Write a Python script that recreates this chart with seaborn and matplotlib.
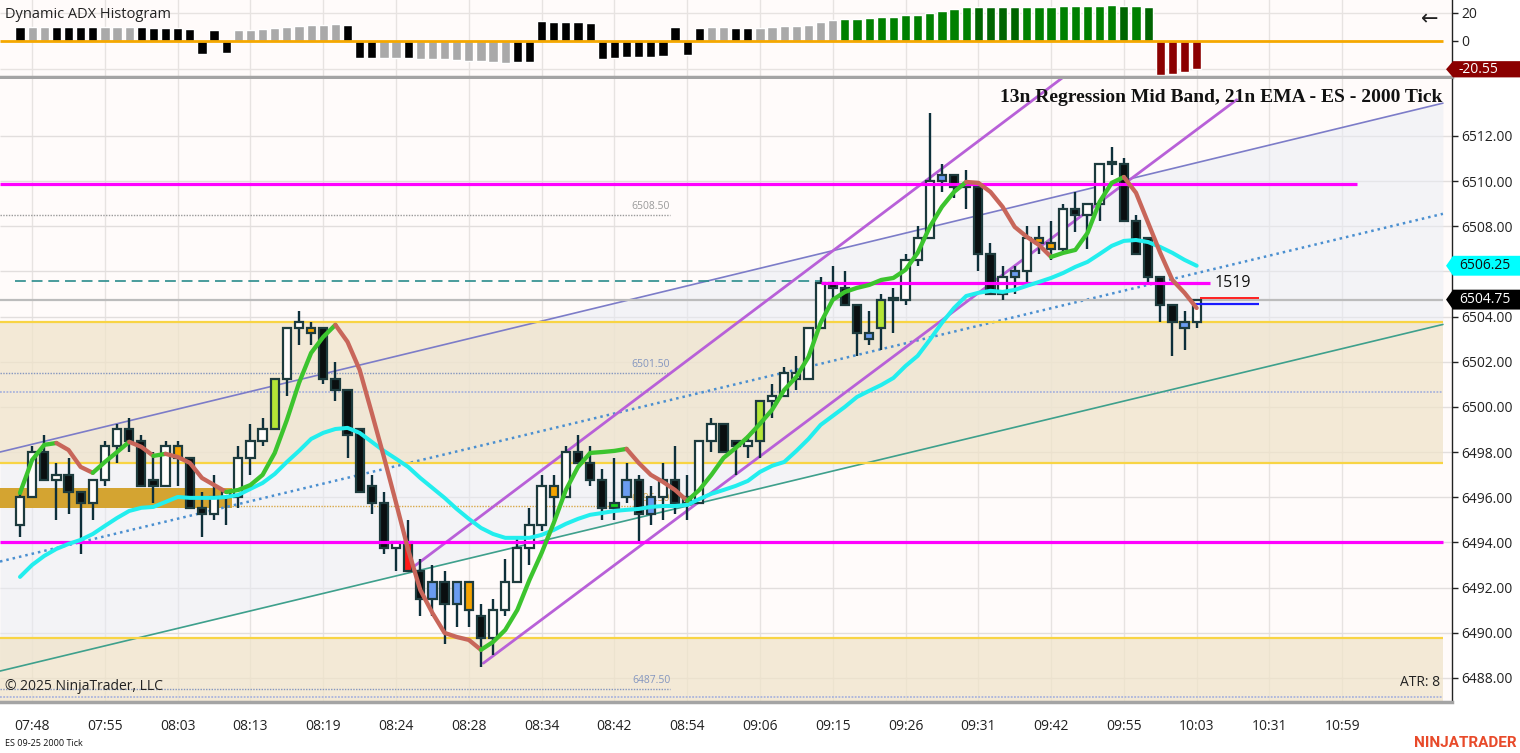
import numpy as np
import pandas as pd
import matplotlib
matplotlib.use("Agg")
import matplotlib.pyplot as plt
import seaborn as sns
from matplotlib.patches import Polygon, Rectangle

sns.set_theme(style="white")
plt.rcParams["font.family"] = ["Open Sans", "DejaVu Sans"]

# ---------------- data ----------------
opens = [6494.75, 6496.00, 6498.00, 6496.75, 6497.00, 6496.25, 6495.75, 6496.75, 6498.25, 6499.00,
         6498.50, 6496.75, 6496.50, 6497.75, 6497.75, 6495.50, 6495.25, 6496.00, 6496.00, 6497.75,
         6498.50, 6499.00, 6501.25, 6503.50, 6503.25, 6503.50, 6501.25, 6500.75, 6499.00, 6496.50,
         6495.75, 6493.75, 6494.00, 6492.75, 6492.25, 6492.25, 6492.25, 6492.25, 6490.75, 6489.75,
         6491.00, 6492.25, 6493.75, 6494.75, 6496.00, 6496.00, 6498.00, 6497.50, 6496.75, 6495.50,
         6496.75, 6496.75, 6496.00, 6496.00, 6496.75, 6495.75, 6495.75, 6498.50, 6499.25, 6498.50,
         6498.25, 6498.50, 6500.25, 6500.50, 6501.25, 6501.25, 6503.50, 6505.50, 6505.25, 6504.50,
         6503.25, 6503.50, 6504.75, 6504.75, 6506.50, 6507.50, 6510.25, 6510.25, 6509.75, 6509.75,
         6506.75, 6505.00, 6505.75, 6506.00, 6507.25, 6507.00, 6507.00, 6508.75, 6508.50, 6509.00,
         6510.75, 6510.75, 6508.25, 6507.50, 6505.75, 6504.50, 6503.75, 6503.75]
highs = [6496.25, 6498.25, 6498.75, 6497.50, 6497.75, 6496.25, 6496.75, 6498.50, 6499.25, 6499.50,
         6498.75, 6498.00, 6498.50, 6498.50, 6497.75, 6496.25, 6497.00, 6496.25, 6498.25, 6499.25,
         6499.50, 6501.25, 6503.50, 6504.25, 6503.75, 6503.50, 6502.00, 6500.75, 6499.00, 6497.00,
         6496.25, 6494.00, 6495.00, 6493.25, 6493.00, 6492.75, 6492.25, 6492.25, 6491.25, 6491.50,
         6493.25, 6494.25, 6495.50, 6497.00, 6497.00, 6498.25, 6498.75, 6498.25, 6497.25, 6497.75,
         6497.50, 6497.00, 6496.50, 6497.50, 6498.25, 6497.00, 6498.50, 6499.50, 6499.25, 6498.50,
         6498.75, 6500.25, 6501.00, 6501.75, 6502.25, 6503.50, 6505.75, 6506.25, 6506.00, 6504.50,
         6504.25, 6505.00, 6505.25, 6506.75, 6508.00, 6513.00, 6510.75, 6510.25, 6510.50, 6510.00,
         6507.25, 6506.25, 6506.25, 6508.00, 6508.00, 6508.25, 6509.00, 6509.50, 6509.00, 6510.75,
         6511.50, 6511.00, 6508.50, 6507.50, 6505.75, 6504.50, 6504.25, 6504.75]
lows = [6494.25, 6496.00, 6496.75, 6495.00, 6495.25, 6493.50, 6495.00, 6496.50, 6497.50, 6498.00,
        6496.50, 6495.75, 6496.50, 6496.50, 6495.50, 6494.25, 6495.00, 6494.75, 6495.50, 6497.00,
        6498.25, 6499.00, 6500.50, 6502.75, 6502.75, 6501.00, 6500.25, 6497.75, 6496.25, 6495.25,
        6493.50, 6492.75, 6492.75, 6490.75, 6490.75, 6489.50, 6490.25, 6490.25, 6488.50, 6489.00,
        6490.75, 6492.25, 6493.00, 6494.50, 6495.00, 6496.00, 6497.50, 6496.50, 6495.00, 6495.00,
        6495.75, 6494.00, 6494.75, 6495.00, 6495.25, 6495.00, 6495.75, 6498.00, 6498.00, 6497.00,
        6497.75, 6497.75, 6499.50, 6500.50, 6500.75, 6501.25, 6503.50, 6504.75, 6504.50, 6502.25,
        6502.75, 6502.50, 6503.25, 6504.50, 6506.25, 6507.50, 6509.50, 6509.25, 6508.75, 6506.00,
        6505.00, 6504.75, 6505.00, 6505.50, 6506.75, 6506.50, 6506.75, 6507.75, 6507.00, 6508.25,
        6510.25, 6508.25, 6506.75, 6505.50, 6503.75, 6502.25, 6502.50, 6503.50]
closes = [6496.00, 6498.00, 6496.75, 6497.00, 6496.25, 6495.75, 6496.75, 6498.25, 6499.00, 6498.50,
          6496.50, 6496.50, 6498.25, 6498.25, 6495.50, 6495.25, 6496.00, 6496.25, 6497.75, 6498.50,
          6499.00, 6501.25, 6503.50, 6503.75, 6503.50, 6501.25, 6500.75, 6498.75, 6496.25, 6495.75,
          6493.75, 6494.00, 6492.75, 6491.50, 6491.50, 6491.25, 6491.25, 6491.00, 6489.75, 6491.00,
          6492.25, 6493.75, 6494.75, 6496.50, 6496.50, 6498.00, 6497.50, 6496.75, 6495.50, 6495.75,
          6496.00, 6495.25, 6495.25, 6496.75, 6495.75, 6496.00, 6498.50, 6499.25, 6498.00, 6498.25,
          6498.50, 6500.25, 6500.50, 6501.50, 6501.50, 6503.50, 6505.50, 6505.25, 6504.50, 6503.25,
          6503.00, 6504.75, 6504.75, 6506.50, 6507.50, 6510.00, 6510.00, 6509.75, 6509.75, 6506.75,
          6505.00, 6505.75, 6506.00, 6507.50, 6507.50, 6507.25, 6508.75, 6508.50, 6509.00, 6510.75,
          6510.75, 6508.25, 6506.75, 6505.75, 6504.50, 6503.75, 6503.50, 6504.75]
# u up, d down, o/l/r/b/n = painted bars
bar_kind = ("uududduuud" "dduodduuuu" "uluuoddddd" "durdbdbodu" "uuuuoudddn"
            "bdbuduuudd" "uluuuuuddd" "bluuuubddd" "dubuoouduu" "udddddbu")

reg_mid = [6496.19, 6497.65, 6498.32, 6498.40, 6498.09, 6497.34, 6497.08, 6497.56, 6498.00, 6498.45,
           6498.23, 6497.83, 6497.92, 6497.78, 6497.52, 6496.85, 6496.54, 6496.23, 6496.32, 6496.54,
           6496.99, 6497.96, 6499.42, 6501.06, 6502.39, 6503.10, 6503.63, 6502.88, 6501.64, 6499.73,
           6497.78, 6495.75, 6493.67, 6491.89, 6490.87, 6489.99, 6489.81, 6489.68, 6489.24, 6489.59,
           6490.12, 6491.01, 6492.34, 6493.53, 6494.86, 6496.32, 6497.34, 6497.96, 6498.00, 6498.05,
           6498.14, 6497.52, 6496.99, 6496.68, 6496.32, 6495.84, 6496.32, 6496.99, 6497.74, 6498.18,
           6498.67, 6499.25, 6499.87, 6500.75, 6501.33, 6502.21, 6503.72, 6504.74, 6505.09, 6505.27,
           6505.40, 6505.62, 6505.71, 6506.07, 6506.82, 6507.97, 6508.86, 6509.52, 6509.96, 6509.92,
           6509.52, 6508.86, 6507.97, 6507.53, 6507.17, 6506.64, 6506.82, 6506.95, 6507.70, 6509.08,
           6509.92, 6510.18, 6509.48, 6508.15, 6506.82, 6505.62, 6505.05, 6504.38]
ema21 = [6492.47, 6493.00, 6493.40, 6493.71, 6493.93, 6494.11, 6494.37, 6494.73, 6495.08, 6495.39,
         6495.53, 6495.57, 6495.79, 6496.01, 6495.97, 6495.97, 6495.97, 6496.01, 6496.10, 6496.37,
         6496.63, 6497.03, 6497.56, 6498.05, 6498.58, 6498.85, 6499.02, 6499.07, 6498.85, 6498.45,
         6498.05, 6497.70, 6497.34, 6496.85, 6496.41, 6495.97, 6495.48, 6495.04, 6494.64, 6494.37,
         6494.20, 6494.20, 6494.20, 6494.33, 6494.55, 6494.82, 6495.04, 6495.22, 6495.30, 6495.39,
         6495.44, 6495.48, 6495.57, 6495.61, 6495.61, 6495.66, 6495.92, 6496.15, 6496.32, 6496.50,
         6496.72, 6497.12, 6497.39, 6497.56, 6498.05, 6498.58, 6499.20, 6499.60, 6500.00, 6500.44,
         6500.71, 6500.97, 6501.28, 6501.81, 6502.26, 6502.97, 6503.72, 6504.38, 6504.91, 6505.05,
         6505.14, 6505.09, 6505.18, 6505.36, 6505.53, 6505.71, 6505.93, 6506.20, 6506.42, 6506.77,
         6507.13, 6507.35, 6507.39, 6507.30, 6507.08, 6506.82, 6506.51, 6506.25]

adx = [9.5, 9.5, 9.5, 10, 10, 9.5, 9.5, 9.5, 9.5, 9.5,
       9.5, 8.8, 8.8, 8.8, 8.3, -9.5, 7.6, -9.0, 7.6, 7.6,
       8.1, 8.8, 9.5, 10.5, 11.4, 11.4, 11.9, 11.4, -12.4, -12.4,
       -12.4, -12.4, -12.4, -13.1, -13.1, -13.1, -13.8, -14.8, -14.8, -15.5,
       -16.2, -15.7, -15.7, 13.8, 12.9, 12.9, 12.9, 12.4, -13.1, -12.4,
       -11.9, -11.9, -11.9, -11.4, 9.5, -10.2, 8.8, 9.5, 9.5, 8.8,
       8.8, 9.0, 9.5, 10.2, 10.7, 11.2, 13.1, 14.3, 15.5, 15.5,
       16.0, 16.7, 16.7, 17.9, 18.3, 19.8, 21.0, 22.6, 24.0, 24.0,
       24.0, 24.0, 24.0, 24.0, 24.0, 24.0, 24.5, 24.5, 24.5, 25.0,
       25.5, 25.0, 24.5, 24.0, -24.3, -23.8, -22.6, -20.55]
adx_kind = ("kggkkkkggg" "kkkkkkkkgg" "gggggggkkk" "ggkggggggg" "gkkkkkkkkk"
            "kkkkkkkggk" "kgggggggGG" "GGGGGGGGGD" "DDDGGGGGGG" "GDGDRRRR")

time_ticks = [1, 7, 13, 19, 25, 31, 37, 43, 49, 55, 61, 67, 73, 79, 85, 91, 97, 103, 109]
time_labels = ["07:48", "07:55", "08:03", "08:13", "08:19", "08:24", "08:28", "08:34", "08:42",
               "08:54", "09:06", "09:15", "09:26", "09:31", "09:42", "09:55", "10:03", "10:31", "10:59"]
price_ticks = [6488, 6490, 6492, 6494, 6496, 6498, 6500, 6502, 6504, 6506, 6508, 6510, 6512]

# drawn objects / levels
zone_tan = [(6497.5, 6503.75), (6486.5, 6489.75)]
yellow_levels = [6503.75, 6497.5, 6489.75]
gold_zone = (6495.5, 6496.4, 17.5)
magenta_levels = [(6509.88, 110.2), (6494.0, 117.3)]
ray_1519 = (6505.5, 66.0, 98.1)
teal_dash = (6505.58, -0.4, 66.0)
label_levels = [(6508.5, "#9a9a9a"), (6501.5, "#8496bf"), (6487.5, "#8496bf")]
orange_level = 6495.6
lavender_levels = [6500.68, 6487.15]
chan_x = [-1.65, 117.3]
chan_upper = [6498.0, 6513.45]
chan_lower = [6488.3, 6503.65]
pitch_lower = ([38.2, 100.3], [6488.65, 6513.6])
pitch_upper = ([32.15, 86.0], [6492.8, 6514.6])
last_price = 6504.75
ema_last = 6506.25
adx_last = -20.55

n = len(closes)
idx = np.arange(n)
X0, X1 = -1.65, 117.3

# ---------------- layout ----------------
W, H = 1520, 753
fig = plt.figure(figsize=(W / 100, H / 100), dpi=100)
fig.patch.set_facecolor("white")


def px_axes(x0, y0, x1, y1):
    return fig.add_axes([x0 / W, 1 - y1 / H, (x1 - x0) / W, (y1 - y0) / H])


def ftext(x, y, s, **kw):
    fig.text(x / W, 1 - y / H, s, **kw)


ax_top = px_axes(0, 0, 1452, 77)
ax = px_axes(0, 79, 1452, 702)
bg = "#fffbfa"
for a in (ax_top, ax):
    a.set_facecolor(bg)
    a.set_xlim(-1.649, 118.05)
    for s in ("top", "left"):
        a.spines[s].set_visible(False)
    a.spines["right"].set_color("#222222")
    a.spines["right"].set_linewidth(1)
    a.spines["bottom"].set_color("#a4a4a4")
    a.spines["bottom"].set_linewidth(2.5)
    a.vlines(time_ticks, -1e5, 1e5, color="#e7e3e1", lw=1, zorder=0.2)

# ---------------- top panel: histogram ----------------
ax_top.set_ylim(-26.07, 28.93)
ax_top.hlines([20, -20], X0, 118.05, color="#e7e3e1", lw=1, zorder=0.2)
hist_pal = {"k": "#000000", "g": "#a9a9a9", "G": "#008000", "D": "#006400", "R": "#8b0000"}
ax_top.bar(idx, adx, width=0.76, color=[hist_pal[k] for k in adx_kind], zorder=2)
ax_top.hlines(0, X0, X1, color="#f5a800", lw=2, zorder=3)
ax_top.set_xticks([])
ax_top.yaxis.tick_right()
ax_top.set_yticks([20, 0])
ax_top.set_yticklabels(["20", "0"])
ax_top.tick_params(axis="y", length=4, width=1, color="#222222", labelsize=10, labelcolor="#222222", pad=3)


def badge(a, yv, label, face, tcol, hh):
    tr = a.get_yaxis_transform()
    pts = [(0.9959, yv), (1.0007, yv + hh), (1.05, yv + hh), (1.05, yv - hh), (1.0007, yv - hh)]
    a.add_patch(Polygon(pts, closed=True, transform=tr, facecolor=face, edgecolor="none",
                        clip_on=False, zorder=20))
    a.text(1.0048, yv, label, transform=tr, color=tcol, fontsize=10, va="center", ha="left",
           zorder=21, clip_on=False)


badge(ax_top, adx_last, f"{adx_last:.2f}", "#8b0000", "white", 5.8)

# ---------------- main panel ----------------
ax.set_ylim(6486.93, 6514.52)
ax.hlines(price_ticks, X0, 118.05, color="#e2dedd", lw=1, zorder=0.2)

# regression channel fill, then the translucent tan zones over it
ax.fill_between(chan_x, chan_upper, chan_lower, color="#e8ecf4", alpha=0.5, lw=0, zorder=0.5)
for lo, hi in zone_tan:
    ax.fill_between([X0, X1], lo, hi, color="#efe3c9", alpha=0.72, lw=0, zorder=0.6)
ax.fill_between([X0, gold_zone[2]], gold_zone[0], gold_zone[1], color="#d4a431", lw=0, zorder=0.7)
ax.plot(chan_x, chan_upper, color="#7c7cc8", lw=1.2, zorder=1.5)
ax.plot(chan_x, chan_lower, color="#3ea08c", lw=1.2, zorder=1.5)
ax.plot(chan_x, [(u + l) / 2 for u, l in zip(chan_upper, chan_lower)], color="#4a8fd0",
        lw=1.8, ls=(0, (1, 1.6)), zorder=1.5)

# dotted levels with labels
for lv, col in label_levels:
    ax.hlines(lv, X0, 53.6, color=col, lw=1, ls=(0, (1, 1)), zorder=1)
    ax.text(53.6, lv + 0.12, f"{lv:.2f}", color=col, fontsize=7.5, ha="right", va="bottom", zorder=1)
ax.hlines(orange_level, gold_zone[2], 53.6, color="#d8a848", lw=1, ls=(0, (1, 1)), zorder=1)
ax.text(53.6, orange_level + 0.12, "6495.50", color="#d8a848", fontsize=7.5, ha="right", va="bottom", zorder=1)
for lv in lavender_levels:
    ax.hlines(lv, X0, X1, color="#aab4dc", lw=1.3, ls=(0, (1, 0.8)), zorder=1)

ax.hlines(yellow_levels, X0, X1, color="#f8d444", lw=1.6, zorder=1.6)
ax.hlines(last_price, X0, X1, color="#bcbcbc", lw=1.6, zorder=1.6)
ax.hlines(teal_dash[0], teal_dash[1], teal_dash[2], color="#2a8c8c", lw=1.2, ls=(0, (6.5, 3.5)), zorder=1.6)

# purple pitch lines
ax.plot(*pitch_lower, color="#b860d8", lw=2, zorder=2)
ax.plot(*pitch_upper, color="#b860d8", lw=2, zorder=2)

# candles
body_col = {"u": "#fffdfb", "d": "#0a0f10", "o": "#f5a300", "l": "#b4e636",
            "r": "#ff1a1a", "b": "#6a9cf0", "n": "#18d018"}
ax.vlines(idx, lows, highs, color="#0d2f3a", lw=1.7, zorder=4)
for i in range(n):
    lo = min(opens[i], closes[i])
    hgt = max(abs(closes[i] - opens[i]), 0.09)
    ax.add_patch(Rectangle((i - 0.34, lo), 0.68, hgt, facecolor=body_col[bar_kind[i]],
                           edgecolor="#1d3b3d", lw=1.6, zorder=5))

# magenta levels (over candles)
for lv, xe in magenta_levels:
    ax.hlines(lv, X0, xe, color="#ff00ff", lw=2.3, zorder=6)
ax.hlines(ray_1519[0], ray_1519[1], ray_1519[2], color="#ff00ff", lw=2.3, zorder=6)
ax.text(ray_1519[2] + 0.4, ray_1519[0], "1519", color="#111111", fontsize=11.5, va="center", ha="left", zorder=6)

# last bar markers
ax.hlines(last_price + 0.09, 97.3, 102.1, color="#ff2020", lw=1.4, zorder=6)
ax.hlines(last_price - 0.19, 96.9, 102.1, color="#1a1aff", lw=1.6, zorder=6)

# 21 EMA
sns.lineplot(x=idx, y=ema21, ax=ax, color="#22eeee", lw=2.9, zorder=7, legend=False)

# regression mid band, coloured by slope
up_col, dn_col = "#3cc42e", "#c8665a"
seg_col = [up_col if reg_mid[i] >= reg_mid[i - 1] else dn_col for i in range(1, n)]
start = 0
for i in range(1, n):
    if i == n - 1 or seg_col[i] != seg_col[i - 1]:
        ax.plot(idx[start:i + 1], reg_mid[start:i + 1], color=seg_col[i - 1], lw=3.1,
                solid_capstyle="round", zorder=8)
        start = i

ax.set_xlabel("")
ax.set_ylabel("")
ax.yaxis.tick_right()
ax.set_yticks(price_ticks)
# the 6506 label sits under the EMA badge in the reference
ax.set_yticklabels(["" if p == 6506 else f"{p:.2f}" for p in price_ticks])
ax.tick_params(axis="y", length=4, width=1, color="#222222", labelsize=10, labelcolor="#222222", pad=3)
ax.set_xticks(time_ticks)
ax.set_xticklabels(time_labels)
ax.tick_params(axis="x", length=5, width=1, color="#333333", labelsize=10, labelcolor="#222222", pad=7)
ax.set_xlim(-1.649, 118.05)

badge(ax, ema_last, f"{ema_last:.2f}", "#00ffff", "#111111", 0.44)
badge(ax, last_price, f"{last_price:.2f}", "#000000", "white", 0.44)

# ---------------- texts ----------------
ftext(5, 15, "Dynamic ADX Histogram", fontsize=10.5, color="#222222", va="center")
ftext(1430, 20, "\u2190", fontsize=15, color="#222222", va="center", ha="center")
ftext(1442, 97, "13n Regression Mid Band, 21n EMA - ES - 2000 Tick", fontsize=14,
      family=["Liberation Serif", "DejaVu Serif"], weight="bold", color="#111111", ha="right", va="center")
ftext(5, 686, "\u00a9 2025 NinjaTrader, LLC", fontsize=10, color="#222222", va="center")
ftext(1440, 682, "ATR: 8", fontsize=10, color="#222222", va="center", ha="right")
ftext(5, 743, "ES 09-25 2000 Tick", fontsize=6.5, color="#111111", va="center")
ftext(1517, 743, "NINJATRADER", fontsize=11, weight="bold", color="#e84a2a", va="center", ha="right",
      family=["Roboto", "DejaVu Sans"])

fig.savefig("out.png", dpi=100, facecolor=fig.get_facecolor())
